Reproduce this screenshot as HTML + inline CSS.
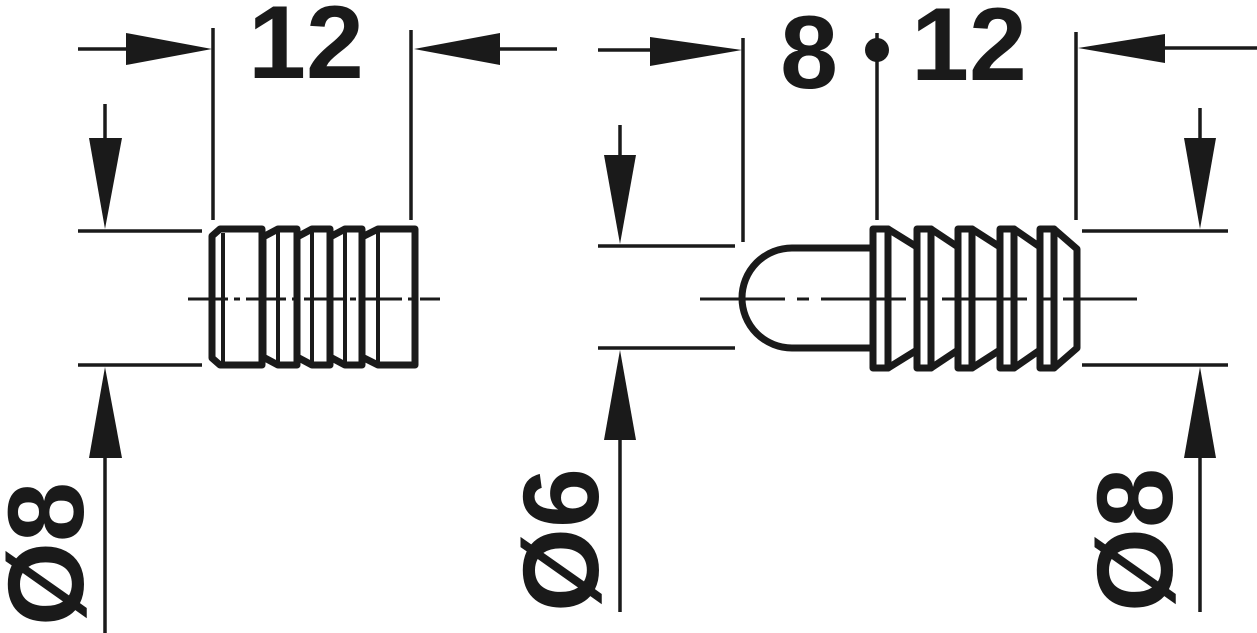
<!DOCTYPE html>
<html><head><meta charset="utf-8"><style>html,body{margin:0;padding:0;background:#fff}svg{display:block}</style></head>
<body>
<svg width="1257" height="633" viewBox="0 0 1257 633" xmlns="http://www.w3.org/2000/svg">
<g stroke="#1a1a1a" stroke-width="3.5" fill="none">
<line x1="78" y1="49" x2="130" y2="49"/>
<line x1="213" y1="28" x2="213" y2="220"/>
<line x1="411" y1="30" x2="411" y2="220"/>
<line x1="498" y1="49" x2="557" y2="49"/>
<line x1="78" y1="231" x2="202" y2="231"/>
<line x1="78" y1="365" x2="202" y2="365"/>
<line x1="105" y1="104" x2="105" y2="140"/>
<line x1="105" y1="455" x2="105" y2="633"/>
<line x1="598" y1="50" x2="655" y2="50"/>
<line x1="743" y1="38" x2="743" y2="242"/>
<line x1="877" y1="33" x2="877" y2="220"/>
<line x1="1076" y1="32" x2="1076" y2="220"/>
<line x1="1160" y1="48" x2="1257" y2="48"/>
<line x1="598" y1="246" x2="735" y2="246"/>
<line x1="598" y1="348" x2="735" y2="348"/>
<line x1="620" y1="125" x2="620" y2="160"/>
<line x1="620" y1="440" x2="620" y2="612"/>
<line x1="1082" y1="231" x2="1228" y2="231"/>
<line x1="1082" y1="365" x2="1228" y2="365"/>
<line x1="1200" y1="108" x2="1200" y2="140"/>
<line x1="1200" y1="455" x2="1200" y2="612"/>
<line x1="188" y1="299" x2="440" y2="299" stroke-width="3" stroke-dasharray="40,6,6,6"/>
<line x1="700" y1="299" x2="1137" y2="299" stroke-width="3" stroke-dasharray="85,12,12,12"/>
</g>
<g fill="#1a1a1a">
<polygon points="212,49 126,33 126,65"/>
<polygon points="414,49 500,33 500,65"/>
<polygon points="105,229 89,138 122,138"/>
<polygon points="105,367 89,458 122,458"/>
<polygon points="742,50 650,37 650,66"/>
<polygon points="1078,48 1165,34 1165,63"/>
<polygon points="620,244 604,155 636,155"/>
<polygon points="620,350 604,440 636,440"/>
<polygon points="1200,229 1184,138 1216,138"/>
<polygon points="1200,367 1184,458 1216,458"/>
<circle cx="877" cy="50" r="12"/>
</g>
<g stroke="#1a1a1a" stroke-width="7" fill="none" stroke-linejoin="round">
<polygon points="220,229 262,229 262,365 220,365 212,358 212,236"/>
<line x1="223" y1="233" x2="223" y2="362" stroke-width="4"/>
<polygon points="263,237 278,229 297,229 297,365 278,365 263,357"/>
<line x1="278" y1="232" x2="278" y2="362" stroke-width="4"/>
<polygon points="297,237 312,229 330,229 330,365 312,365 297,357"/>
<line x1="312" y1="232" x2="312" y2="362" stroke-width="4"/>
<polygon points="330,237 345,229 362,229 362,365 345,365 330,357"/>
<line x1="345" y1="232" x2="345" y2="362" stroke-width="4"/>
<polygon points="362,237 378,229 415,229 415,365 378,365 362,357"/>
<line x1="378" y1="232" x2="378" y2="362" stroke-width="4"/>
</g>
<g stroke="#1a1a1a" stroke-width="7" fill="none" stroke-linejoin="round">
<path d="M872,248 H792 A50,50 0 0 0 792,348 H872"/>
<rect x="873" y="229" width="15" height="139"/>
<polygon points="888,229 917,247 917,350 888,368"/>
<rect x="917" y="229" width="14" height="139"/>
<polygon points="931,229 958,247 958,350 931,368"/>
<rect x="958" y="229" width="14" height="139"/>
<polygon points="972,229 1000,247 1000,350 972,368"/>
<rect x="1000" y="229" width="14" height="139"/>
<polygon points="1014,229 1040,247 1040,350 1014,368"/>
<rect x="1040" y="229" width="14" height="139"/>
<polygon points="1054,229 1077,249 1077,348 1054,368"/>
</g>
<g font-family="Liberation Sans, Arial, sans-serif" font-weight="bold" fill="#1a1a1a" font-size="104">
<text x="306" y="78" text-anchor="middle">12</text>
<text x="809" y="88" text-anchor="middle">8</text>
<text x="969" y="80" text-anchor="middle">12</text>
<text transform="translate(83,626) rotate(-90)" font-size="108">Ø8</text>
<text transform="translate(598,612) rotate(-90)" font-size="108">Ø6</text>
<text transform="translate(1172,612) rotate(-90)" font-size="108">Ø8</text>
</g>
</svg>
</body></html>
